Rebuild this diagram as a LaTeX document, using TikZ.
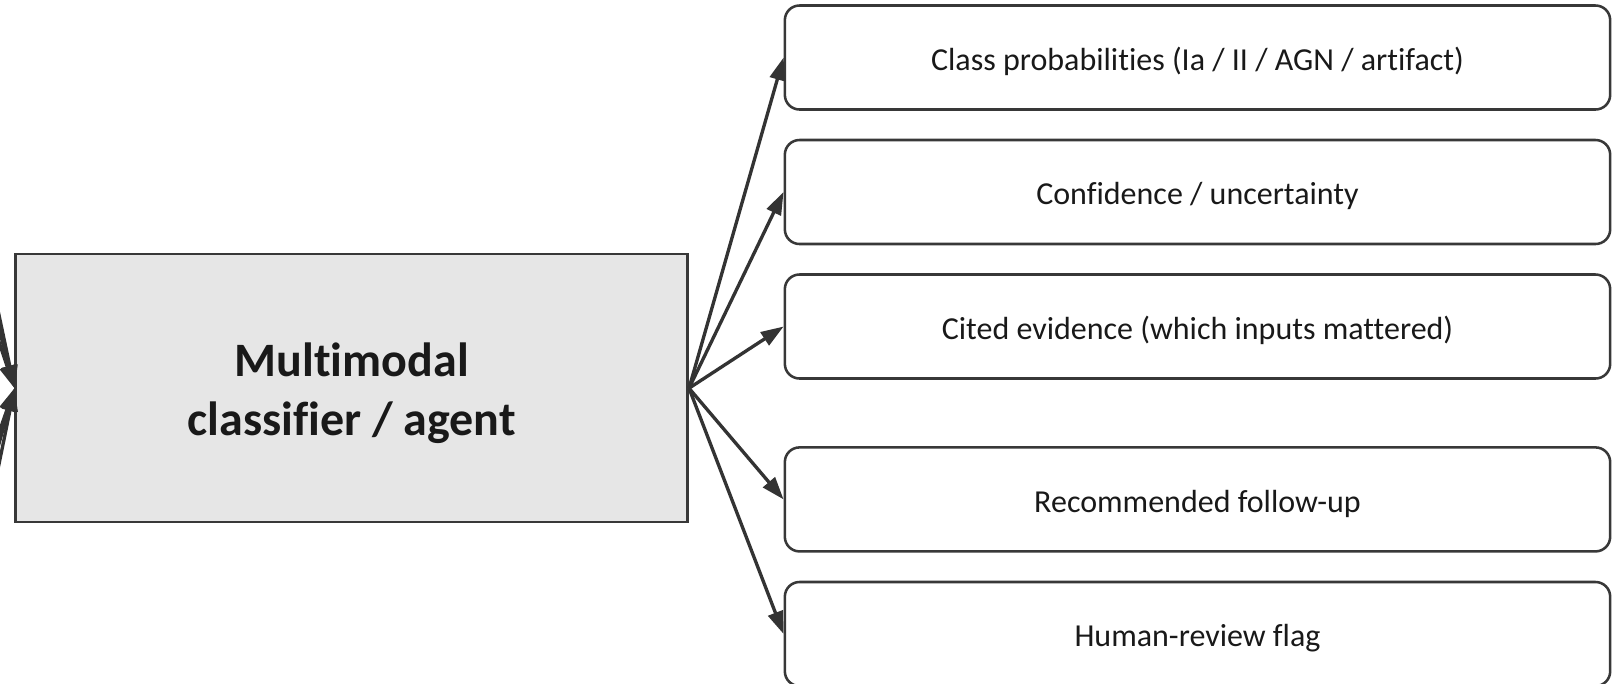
\documentclass[tikz,border=0pt]{standalone}
\usepackage{fontspec}
\setmainfont{Carlito}[Ligatures=NoCommon]
\usetikzlibrary{arrows.meta}
\definecolor{edgegray}{HTML}{383838}
\definecolor{arrowgray}{HTML}{333333}
\definecolor{boxfill}{HTML}{E6E6E6}
\tikzset{
  corebox/.style={draw=edgegray, line width=1.9pt, fill=boxfill, rectangle,
    minimum width=504pt, minimum height=201pt, align=center,
    text height=76pt, text depth=5.7pt,
    font=\fontsize{36}{44}\selectfont\bfseries, text=black!90},
  outbox/.style={draw=edgegray, line width=1.9pt, fill=white, rectangle, rounded corners=11pt,
    minimum width=619pt, minimum height=78pt, align=center,
    text height=23.4pt, text depth=4pt,
    font=\fontsize{24}{28}\selectfont, text=black!90},
  flow/.style={draw=arrowgray, line width=2.5pt, -{Triangle[length=17pt,width=11.5pt]}}
}
\begin{document}
\begin{tikzpicture}[x=0.75pt, y=-0.75pt]
\useasboundingbox (0,0) rectangle (1623,683);
\clip (0,0) rectangle (1623,683);
% incoming connectors from off-picture
\coordinate (in1) at (-40,131);
\coordinate (in2) at (-40,178);
\coordinate (in3) at (-40,225);
\coordinate (in4) at (-40,545);
\coordinate (in5) at (-40,583);
\coordinate (in6) at (-40,655);
\node[corebox] (core) at (351.75,388.2) {Multimodal\\classifier / agent};
\foreach \s in {in1,in2,in3,in4,in5,in6} \draw[flow] (\s) -- (core.west);
\node[outbox] (o1) at (1197.5,57.5) {Class probabilities (Ia / II / AGN / artifact)};
\node[outbox] (o2) at (1197.5,192) {Confidence / uncertainty};
\node[outbox] (o3) at (1197.5,326.5) {Cited evidence (which inputs mattered)};
\node[outbox] (o4) at (1197.5,499.4) {Recommended follow-up};
\node[outbox] (o5) at (1197.5,634) {Human-review flag};
\foreach \t in {o1,o2,o3,o4,o5} \draw[flow] (core.east) -- (\t.west);
\end{tikzpicture}
\end{document}
